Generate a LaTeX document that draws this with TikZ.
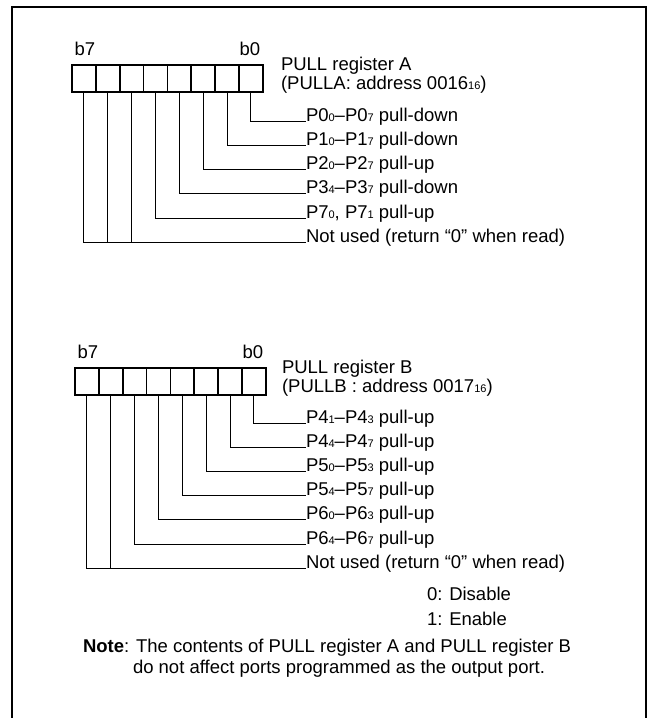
\documentclass[tikz,border=0pt]{standalone}
\usepackage{fontspec}
\setmainfont{Liberation Sans}
\newcommand\sbx[1]{{\fontsize{11}{11}\selectfont #1}}
\begin{document}
\begin{tikzpicture}[x=1pt,y=-1pt,
  cell/.style={draw, line width=1.6pt, minimum width=23.85pt, minimum height=27pt, inner sep=0pt, outer sep=0pt},
  lbl/.style={anchor=base west, inner sep=0pt, outer sep=0pt, font=\fontsize{18.5}{22}\selectfont},
  bitlbl/.style={anchor=base, inner sep=0pt, outer sep=0pt, font=\fontsize{18.5}{22}\selectfont},
  wire/.style={line width=0.9pt},
  frame/.style={line width=2.5pt}]
\useasboundingbox (0,0) rectangle (650,718);
\begin{scope}
\clip (0,0) rectangle (650,718);
\draw[frame] (12,740) -- (12,7) -- (646,7) -- (646,740);
\end{scope}

% ---------- Register A ----------
\foreach \i in {0,...,7} \node[cell] (a\i) at ({72+23.85*(7-\i)+11.925},78.5) {};
\node[bitlbl] (a7l) at ([xshift=1pt]a7.center |- 0,55) {b7};
\node[bitlbl] (a0l) at ([xshift=-1pt]a0.center |- 0,55) {b0};
\node[lbl] (ta1) at (281,70) {PULL register A};
\node[lbl] (ta2) at (281,89) {(PULLA: address 0016\sbx{16})};

\node[lbl] (la0) at (306,121)   {P0\sbx{0}–P0\sbx{7} pull-down};
\node[lbl] (la1) at (306,145.3) {P1\sbx{0}–P1\sbx{7} pull-down};
\node[lbl] (la2) at (306,169.6) {P2\sbx{0}–P2\sbx{7} pull-up};
\node[lbl] (la3) at (306,193.9) {P3\sbx{4}–P3\sbx{7} pull-down};
\node[lbl] (la4) at (306,218.2) {P7\sbx{0}, P7\sbx{1} pull-up};
\node[lbl] (la5) at (306,242.5) {Not used (return “0” when read)};

\foreach \i in {0,...,4} \draw[wire] (a\i.south) |- (la\i.base west);
\draw[wire] (a7.south) |- (la5.base west);
\draw[wire] (a6.south) -- (a6.south |- la5.base west);
\draw[wire] (a5.south) -- (a5.south |- la5.base west);

% ---------- Register B ----------
\foreach \i in {0,...,7} \node[cell] (b\i) at ({75+23.85*(7-\i)+11.925},381.5) {};
\node[bitlbl] (b7l) at ([xshift=1pt]b7.center |- 0,358) {b7};
\node[bitlbl] (b0l) at ([xshift=-1pt]b0.center |- 0,358) {b0};
\node[lbl] (tb1) at (282,373) {PULL register B};
\node[lbl] (tb2) at (282,392) {(PULLB : address 0017\sbx{16})};

\node[lbl] (lb0) at (306,423)   {P4\sbx{1}–P4\sbx{3} pull-up};
\node[lbl] (lb1) at (306,447.2) {P4\sbx{4}–P4\sbx{7} pull-up};
\node[lbl] (lb2) at (306,471.4) {P5\sbx{0}–P5\sbx{3} pull-up};
\node[lbl] (lb3) at (306,495.6) {P5\sbx{4}–P5\sbx{7} pull-up};
\node[lbl] (lb4) at (306,519.8) {P6\sbx{0}–P6\sbx{3} pull-up};
\node[lbl] (lb5) at (306,544)   {P6\sbx{4}–P6\sbx{7} pull-up};
\node[lbl] (lb6) at (306,568.2) {Not used (return “0” when read)};

\foreach \i in {0,...,5} \draw[wire] (b\i.south) |- (lb\i.base west);
\draw[wire] (b7.south) |- (lb6.base west);
\draw[wire] (b6.south) -- (b6.south |- lb6.base west);

% ---------- Legend and note ----------
\node[lbl] (dis) at (427,600) {0: Disable};
\node[lbl] (ena) at (427,625) {1: Enable};
\node[lbl] (note1) at (83,652) {\textbf{Note}: The contents of PULL register A and PULL register B};
\node[lbl] (note2) at (133,673) {do not affect ports programmed as the output port.};
\end{tikzpicture}
\end{document}
